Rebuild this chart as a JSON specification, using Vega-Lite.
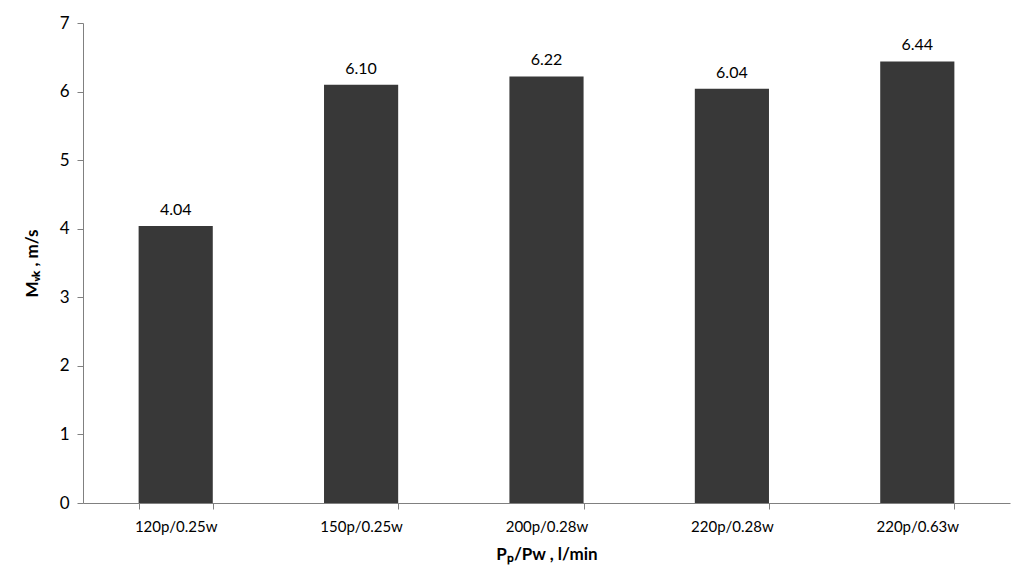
{
  "$schema": "https://vega.github.io/schema/vega-lite/v6.json",
  "autosize": {"type": "none"},
  "padding": {"left": 83, "top": 23, "right": 9, "bottom": 76},
  "width": 927,
  "height": 480,
  "background": "white",
  "config": {
    "font": "Lato",
    "view": {"stroke": null},
    "axis": {"grid": false, "domainColor": "#808080", "tickColor": "#808080", "ticks": true, "tickWidth": 1, "labelColor": "#000000", "titleColor": "#000000", "labelFont": "Lato", "titleFont": "Lato", "labelFontSize": 15, "titleFontSize": 17, "titleFontWeight": "bold"}
  },
  "data": {"values": [
    {"cat": "120p/0.25w", "v": 4.04},
    {"cat": "150p/0.25w", "v": 6.10},
    {"cat": "200p/0.28w", "v": 6.22},
    {"cat": "220p/0.28w", "v": 6.04},
    {"cat": "220p/0.63w", "v": 6.44}
  ]},
  "encoding": {
    "x": {"field": "cat", "type": "nominal", "sort": null,
      "scale": {"paddingInner": 0.6, "paddingOuter": 0.3},
      "axis": {"title": "Pₚ/Pw , l/min", "labelAngle": 0, "tickBand": "extent", "tickSize": 6, "labelPadding": 10, "titlePadding": 12}},
    "y": {"field": "v", "type": "quantitative",
      "scale": {"domain": [0, 7], "nice": false},
      "axis": {"title": "Mᵥₖ , m/s", "values": [0, 1, 2, 3, 4, 5, 6, 7], "labelOverlap": false, "tickSize": 6, "labelPadding": 8, "titlePadding": 18, "labelFontSize": 17}}
  },
  "layer": [
    {"mark": {"type": "bar", "color": "#383838"}},
    {"mark": {"type": "text", "dy": -16, "fontSize": 16, "color": "#000000", "font": "Lato"},
     "encoding": {"text": {"field": "v", "type": "quantitative", "format": ".2f"}}}
  ]
}
